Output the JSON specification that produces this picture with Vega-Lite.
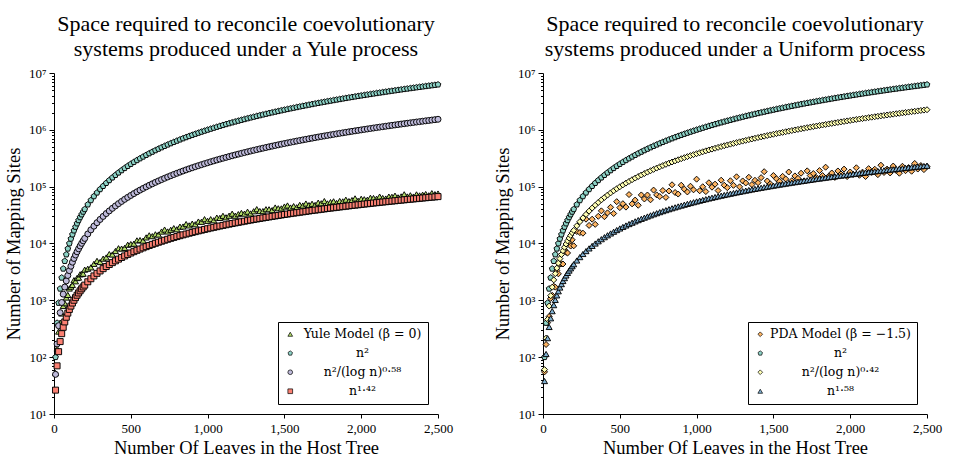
{
  "$schema": "https://vega.github.io/schema/vega-lite/v6.json",
  "background": "white",
  "padding": {"left": 4, "top": 12, "right": 6, "bottom": 2},
  "config": {
    "font": "Liberation Serif",
    "view": {"stroke": null},
    "axis": {
      "labelFont": "Liberation Serif", "titleFont": "Liberation Serif",
      "labelFontSize": 13, "titleFontSize": 18.5, "titleFontWeight": "normal",
      "labelColor": "black", "titleColor": "black",
      "domainColor": "black", "tickColor": "black", "grid": false
    },
    "title": {
      "font": "Liberation Serif", "fontSize": 22, "fontWeight": "normal", "color": "black",
      "lineHeight": 25.5, "anchor": "middle", "frame": "group", "offset": 6
    },
    "legend": {
      "labelFont": "DejaVu Serif", "labelFontSize": 12.5, "labelColor": "black",
      "strokeColor": "black", "fillColor": "white", "padding": 6, "cornerRadius": 0,
      "symbolStrokeColor": "black", "symbolStrokeWidth": 0.7, "symbolSize": 22,
      "rowPadding": 6, "labelAlign": "center", "orient": "bottom-right", "offset": 10
    }
  },
  "datasets": {
    "pts": [
      {"n":10,"s":"Y","y":52.6},{"n":20,"s":"Y","y":142},{"n":30,"s":"Y","y":282},{"n":40,"s":"Y","y":405},{"n":50,"s":"Y","y":587},{"n":60,"s":"Y","y":796},{"n":70,"s":"Y","y":890},{"n":80,"s":"Y","y":1120},{"n":90,"s":"Y","y":1246},{"n":100,"s":"Y","y":1614},
      {"n":110,"s":"Y","y":1737},{"n":120,"s":"Y","y":1863},{"n":130,"s":"Y","y":2264},{"n":140,"s":"Y","y":2163},{"n":150,"s":"Y","y":2470},{"n":160,"s":"Y","y":2512},{"n":170,"s":"Y","y":2869},{"n":180,"s":"Y","y":2901},{"n":190,"s":"Y","y":2941},{"n":200,"s":"Y","y":3468},
      {"n":220,"s":"Y","y":3596},{"n":240,"s":"Y","y":3807},{"n":260,"s":"Y","y":4387},{"n":280,"s":"Y","y":4946},{"n":300,"s":"Y","y":4726},{"n":320,"s":"Y","y":5410},{"n":340,"s":"Y","y":5683},{"n":360,"s":"Y","y":6517},{"n":380,"s":"Y","y":6412},{"n":400,"s":"Y","y":7373},
      {"n":420,"s":"Y","y":8257},{"n":440,"s":"Y","y":8138},{"n":460,"s":"Y","y":8381},{"n":480,"s":"Y","y":9511},{"n":500,"s":"Y","y":9754},{"n":520,"s":"Y","y":9934},{"n":540,"s":"Y","y":11338},{"n":560,"s":"Y","y":11489},{"n":580,"s":"Y","y":11246},{"n":600,"s":"Y","y":12795},
      {"n":620,"s":"Y","y":13925},{"n":640,"s":"Y","y":13479},{"n":660,"s":"Y","y":14507},{"n":680,"s":"Y","y":14391},{"n":700,"s":"Y","y":16228},{"n":720,"s":"Y","y":17576},{"n":740,"s":"Y","y":16282},{"n":760,"s":"Y","y":17422},{"n":780,"s":"Y","y":18619},{"n":800,"s":"Y","y":17812},
      {"n":820,"s":"Y","y":19797},{"n":840,"s":"Y","y":19895},{"n":860,"s":"Y","y":21998},{"n":880,"s":"Y","y":20827},{"n":900,"s":"Y","y":22377},{"n":920,"s":"Y","y":21797},{"n":940,"s":"Y","y":24330},{"n":960,"s":"Y","y":24105},{"n":980,"s":"Y","y":26795},{"n":1000,"s":"Y","y":25045},
      {"n":1020,"s":"Y","y":26794},{"n":1040,"s":"Y","y":25666},{"n":1060,"s":"Y","y":28576},{"n":1080,"s":"Y","y":28211},{"n":1100,"s":"Y","y":30701},{"n":1120,"s":"Y","y":28902},{"n":1140,"s":"Y","y":30855},{"n":1160,"s":"Y","y":33488},{"n":1180,"s":"Y","y":30814},{"n":1200,"s":"Y","y":32855},
      {"n":1220,"s":"Y","y":34539},{"n":1240,"s":"Y","y":33525},{"n":1260,"s":"Y","y":36267},{"n":1280,"s":"Y","y":33802},{"n":1300,"s":"Y","y":36939},{"n":1320,"s":"Y","y":40206},{"n":1340,"s":"Y","y":37220},{"n":1360,"s":"Y","y":37141},{"n":1380,"s":"Y","y":40090},{"n":1400,"s":"Y","y":40015},
      {"n":1420,"s":"Y","y":38681},{"n":1440,"s":"Y","y":42992},{"n":1460,"s":"Y","y":41643},{"n":1480,"s":"Y","y":41490},{"n":1500,"s":"Y","y":44687},{"n":1520,"s":"Y","y":46691},{"n":1540,"s":"Y","y":42994},{"n":1560,"s":"Y","y":45435},{"n":1580,"s":"Y","y":43411},{"n":1600,"s":"Y","y":47746},
      {"n":1620,"s":"Y","y":46569},{"n":1640,"s":"Y","y":50510},{"n":1660,"s":"Y","y":47392},{"n":1680,"s":"Y","y":50001},{"n":1700,"s":"Y","y":47699},{"n":1720,"s":"Y","y":52323},{"n":1740,"s":"Y","y":51008},{"n":1760,"s":"Y","y":55771},{"n":1780,"s":"Y","y":50757},{"n":1800,"s":"Y","y":53502},
      {"n":1820,"s":"Y","y":55236},{"n":1840,"s":"Y","y":51576},{"n":1860,"s":"Y","y":56006},{"n":1880,"s":"Y","y":55031},{"n":1900,"s":"Y","y":58981},{"n":1920,"s":"Y","y":55728},{"n":1940,"s":"Y","y":58077},{"n":1960,"s":"Y","y":62186},{"n":1980,"s":"Y","y":56432},{"n":2000,"s":"Y","y":61168},
      {"n":2020,"s":"Y","y":60057},{"n":2040,"s":"Y","y":58896},{"n":2060,"s":"Y","y":63719},{"n":2080,"s":"Y","y":63158},{"n":2100,"s":"Y","y":61331},{"n":2120,"s":"Y","y":66895},{"n":2140,"s":"Y","y":63142},{"n":2160,"s":"Y","y":61850},{"n":2180,"s":"Y","y":66899},{"n":2200,"s":"Y","y":66243},
      {"n":2220,"s":"Y","y":69491},{"n":2240,"s":"Y","y":64846},{"n":2260,"s":"Y","y":67387},{"n":2280,"s":"Y","y":73383},{"n":2300,"s":"Y","y":67249},{"n":2320,"s":"Y","y":70531},{"n":2340,"s":"Y","y":67001},{"n":2360,"s":"Y","y":73145},{"n":2380,"s":"Y","y":70190},{"n":2400,"s":"Y","y":72196},
      {"n":2420,"s":"Y","y":74221},{"n":2440,"s":"Y","y":70507},{"n":2460,"s":"Y","y":76807},{"n":2480,"s":"Y","y":73757},{"n":2500,"s":"Y","y":75737},

      {"n":10,"s":"P","y":55.1},{"n":20,"s":"P","y":167},{"n":30,"s":"P","y":404},{"n":40,"s":"P","y":520},{"n":50,"s":"P","y":1083},{"n":60,"s":"P","y":1226},{"n":70,"s":"P","y":1772},{"n":80,"s":"P","y":1707},{"n":90,"s":"P","y":3366},{"n":100,"s":"P","y":2926},
      {"n":110,"s":"P","y":4330},{"n":120,"s":"P","y":4395},{"n":130,"s":"P","y":4358},{"n":140,"s":"P","y":7835},{"n":150,"s":"P","y":6995},{"n":160,"s":"P","y":6817},{"n":170,"s":"P","y":9993},{"n":180,"s":"P","y":9018},{"n":190,"s":"P","y":11620},{"n":200,"s":"P","y":9102},
      {"n":220,"s":"P","y":16278},{"n":240,"s":"P","y":15563},{"n":260,"s":"P","y":15191},{"n":280,"s":"P","y":26802},{"n":300,"s":"P","y":20812},{"n":320,"s":"P","y":26774},{"n":340,"s":"P","y":21717},{"n":360,"s":"P","y":30104},{"n":380,"s":"P","y":37504},{"n":400,"s":"P","y":29644},
      {"n":420,"s":"P","y":34590},{"n":440,"s":"P","y":43349},{"n":460,"s":"P","y":33702},{"n":480,"s":"P","y":54474},{"n":500,"s":"P","y":42789},{"n":520,"s":"P","y":50170},{"n":540,"s":"P","y":43662},{"n":560,"s":"P","y":72648},{"n":580,"s":"P","y":49817},{"n":600,"s":"P","y":58088},
      {"n":620,"s":"P","y":47090},{"n":640,"s":"P","y":71483},{"n":660,"s":"P","y":60736},{"n":680,"s":"P","y":71320},{"n":700,"s":"P","y":58774},{"n":720,"s":"P","y":87072},{"n":740,"s":"P","y":71705},{"n":760,"s":"P","y":67094},{"n":780,"s":"P","y":85540},{"n":800,"s":"P","y":64763},
      {"n":820,"s":"P","y":83919},{"n":840,"s":"P","y":107950},{"n":860,"s":"P","y":78970},{"n":880,"s":"P","y":74146},{"n":900,"s":"P","y":106084},{"n":920,"s":"P","y":90489},{"n":940,"s":"P","y":80731},{"n":960,"s":"P","y":101803},{"n":980,"s":"P","y":87984},{"n":1000,"s":"P","y":135462},
      {"n":1020,"s":"P","y":84705},{"n":1040,"s":"P","y":99713},{"n":1060,"s":"P","y":82002},{"n":1080,"s":"P","y":117169},{"n":1100,"s":"P","y":97915},{"n":1120,"s":"P","y":110752},{"n":1140,"s":"P","y":85359},{"n":1160,"s":"P","y":129891},{"n":1180,"s":"P","y":105992},{"n":1200,"s":"P","y":96104},
      {"n":1220,"s":"P","y":126943},{"n":1240,"s":"P","y":105538},{"n":1260,"s":"P","y":149234},{"n":1280,"s":"P","y":99347},{"n":1300,"s":"P","y":126092},{"n":1320,"s":"P","y":116156},{"n":1340,"s":"P","y":146421},{"n":1360,"s":"P","y":108808},{"n":1380,"s":"P","y":129605},{"n":1400,"s":"P","y":117444},
      {"n":1420,"s":"P","y":144125},{"n":1440,"s":"P","y":183487},{"n":1460,"s":"P","y":125864},{"n":1480,"s":"P","y":111858},{"n":1500,"s":"P","y":157209},{"n":1520,"s":"P","y":137679},{"n":1540,"s":"P","y":124480},{"n":1560,"s":"P","y":151769},{"n":1580,"s":"P","y":136698},{"n":1600,"s":"P","y":180985},
      {"n":1620,"s":"P","y":127322},{"n":1640,"s":"P","y":154616},{"n":1660,"s":"P","y":139939},{"n":1680,"s":"P","y":172640},{"n":1700,"s":"P","y":126527},{"n":1720,"s":"P","y":189656},{"n":1740,"s":"P","y":156826},{"n":1760,"s":"P","y":170104},{"n":1780,"s":"P","y":144324},{"n":1800,"s":"P","y":191903},
      {"n":1820,"s":"P","y":156709},{"n":1840,"s":"P","y":220067},{"n":1860,"s":"P","y":152890},{"n":1880,"s":"P","y":173992},{"n":1900,"s":"P","y":145564},{"n":1920,"s":"P","y":188977},{"n":1940,"s":"P","y":167082},{"n":1960,"s":"P","y":203760},{"n":1980,"s":"P","y":150545},{"n":2000,"s":"P","y":181163},
      {"n":2020,"s":"P","y":163986},{"n":2040,"s":"P","y":215049},{"n":2060,"s":"P","y":158558},{"n":2080,"s":"P","y":180054},{"n":2100,"s":"P","y":150991},{"n":2120,"s":"P","y":207595},{"n":2140,"s":"P","y":178180},{"n":2160,"s":"P","y":202420},{"n":2180,"s":"P","y":162713},{"n":2200,"s":"P","y":238688},
      {"n":2220,"s":"P","y":177849},{"n":2240,"s":"P","y":203573},{"n":2260,"s":"P","y":174305},{"n":2280,"s":"P","y":230511},{"n":2300,"s":"P","y":192727},{"n":2320,"s":"P","y":172405},{"n":2340,"s":"P","y":228341},{"n":2360,"s":"P","y":191096},{"n":2380,"s":"P","y":216635},{"n":2400,"s":"P","y":186869},
      {"n":2420,"s":"P","y":256278},{"n":2440,"s":"P","y":204201},{"n":2460,"s":"P","y":235290},{"n":2480,"s":"P","y":199668},{"n":2500,"s":"P","y":226747},

      {"n":10,"s":"C","y":100},{"n":20,"s":"C","y":400},{"n":30,"s":"C","y":900},{"n":40,"s":"C","y":1600},{"n":50,"s":"C","y":2500},{"n":60,"s":"C","y":3600},{"n":70,"s":"C","y":4900},{"n":80,"s":"C","y":6400},{"n":90,"s":"C","y":8100},{"n":100,"s":"C","y":10000},
      {"n":110,"s":"C","y":12100},{"n":120,"s":"C","y":14400},{"n":130,"s":"C","y":16900},{"n":140,"s":"C","y":19600},{"n":150,"s":"C","y":22500},{"n":160,"s":"C","y":25600},{"n":170,"s":"C","y":28900},{"n":180,"s":"C","y":32400},{"n":190,"s":"C","y":36100},{"n":200,"s":"C","y":40000},
      {"n":220,"s":"C","y":48400},{"n":240,"s":"C","y":57600},{"n":260,"s":"C","y":67600},{"n":280,"s":"C","y":78400},{"n":300,"s":"C","y":90000},{"n":320,"s":"C","y":102400},{"n":340,"s":"C","y":115600},{"n":360,"s":"C","y":129600},{"n":380,"s":"C","y":144400},{"n":400,"s":"C","y":160000},
      {"n":420,"s":"C","y":176400},{"n":440,"s":"C","y":193600},{"n":460,"s":"C","y":211600},{"n":480,"s":"C","y":230400},{"n":500,"s":"C","y":250000},{"n":520,"s":"C","y":270400},{"n":540,"s":"C","y":291600},{"n":560,"s":"C","y":313600},{"n":580,"s":"C","y":336400},{"n":600,"s":"C","y":360000},
      {"n":620,"s":"C","y":384400},{"n":640,"s":"C","y":409600},{"n":660,"s":"C","y":435600},{"n":680,"s":"C","y":462400},{"n":700,"s":"C","y":490000},{"n":720,"s":"C","y":518400},{"n":740,"s":"C","y":547600},{"n":760,"s":"C","y":577600},{"n":780,"s":"C","y":608400},{"n":800,"s":"C","y":640000},
      {"n":820,"s":"C","y":672400},{"n":840,"s":"C","y":705600},{"n":860,"s":"C","y":739600},{"n":880,"s":"C","y":774400},{"n":900,"s":"C","y":810000},{"n":920,"s":"C","y":846400},{"n":940,"s":"C","y":883600},{"n":960,"s":"C","y":921600},{"n":980,"s":"C","y":960400},{"n":1000,"s":"C","y":1000000},
      {"n":1020,"s":"C","y":1040400},{"n":1040,"s":"C","y":1081600},{"n":1060,"s":"C","y":1123600},{"n":1080,"s":"C","y":1166400},{"n":1100,"s":"C","y":1210000},{"n":1120,"s":"C","y":1254400},{"n":1140,"s":"C","y":1299600},{"n":1160,"s":"C","y":1345600},{"n":1180,"s":"C","y":1392400},{"n":1200,"s":"C","y":1440000},
      {"n":1220,"s":"C","y":1488400},{"n":1240,"s":"C","y":1537600},{"n":1260,"s":"C","y":1587600},{"n":1280,"s":"C","y":1638400},{"n":1300,"s":"C","y":1690000},{"n":1320,"s":"C","y":1742400},{"n":1340,"s":"C","y":1795600},{"n":1360,"s":"C","y":1849600},{"n":1380,"s":"C","y":1904400},{"n":1400,"s":"C","y":1960000},
      {"n":1420,"s":"C","y":2016400},{"n":1440,"s":"C","y":2073600},{"n":1460,"s":"C","y":2131600},{"n":1480,"s":"C","y":2190400},{"n":1500,"s":"C","y":2250000},{"n":1520,"s":"C","y":2310400},{"n":1540,"s":"C","y":2371600},{"n":1560,"s":"C","y":2433600},{"n":1580,"s":"C","y":2496400},{"n":1600,"s":"C","y":2560000},
      {"n":1620,"s":"C","y":2624400},{"n":1640,"s":"C","y":2689600},{"n":1660,"s":"C","y":2755600},{"n":1680,"s":"C","y":2822400},{"n":1700,"s":"C","y":2890000},{"n":1720,"s":"C","y":2958400},{"n":1740,"s":"C","y":3027600},{"n":1760,"s":"C","y":3097600},{"n":1780,"s":"C","y":3168400},{"n":1800,"s":"C","y":3240000},
      {"n":1820,"s":"C","y":3312400},{"n":1840,"s":"C","y":3385600},{"n":1860,"s":"C","y":3459600},{"n":1880,"s":"C","y":3534400},{"n":1900,"s":"C","y":3610000},{"n":1920,"s":"C","y":3686400},{"n":1940,"s":"C","y":3763600},{"n":1960,"s":"C","y":3841600},{"n":1980,"s":"C","y":3920400},{"n":2000,"s":"C","y":4000000},
      {"n":2020,"s":"C","y":4080400},{"n":2040,"s":"C","y":4161600},{"n":2060,"s":"C","y":4243600},{"n":2080,"s":"C","y":4326400},{"n":2100,"s":"C","y":4410000},{"n":2120,"s":"C","y":4494400},{"n":2140,"s":"C","y":4579600},{"n":2160,"s":"C","y":4665600},{"n":2180,"s":"C","y":4752400},{"n":2200,"s":"C","y":4840000},
      {"n":2220,"s":"C","y":4928400},{"n":2240,"s":"C","y":5017600},{"n":2260,"s":"C","y":5107600},{"n":2280,"s":"C","y":5198400},{"n":2300,"s":"C","y":5290000},{"n":2320,"s":"C","y":5382400},{"n":2340,"s":"C","y":5475600},{"n":2360,"s":"C","y":5569600},{"n":2380,"s":"C","y":5664400},{"n":2400,"s":"C","y":5760000},
      {"n":2420,"s":"C","y":5856400},{"n":2440,"s":"C","y":5953600},{"n":2460,"s":"C","y":6051600},{"n":2480,"s":"C","y":6150400},{"n":2500,"s":"C","y":6250000},

      {"n":10,"s":"D","y":49.8},{"n":20,"s":"D","y":171},{"n":30,"s":"D","y":358},{"n":40,"s":"D","y":607},{"n":50,"s":"D","y":916},{"n":60,"s":"D","y":1285},{"n":70,"s":"D","y":1712},{"n":80,"s":"D","y":2196},{"n":90,"s":"D","y":2738},{"n":100,"s":"D","y":3334},
      {"n":110,"s":"D","y":3987},{"n":120,"s":"D","y":4694},{"n":130,"s":"D","y":5456},{"n":140,"s":"D","y":6273},{"n":150,"s":"D","y":7143},{"n":160,"s":"D","y":8067},{"n":170,"s":"D","y":9046},{"n":180,"s":"D","y":10076},{"n":190,"s":"D","y":11154},{"n":200,"s":"D","y":12292},
      {"n":220,"s":"D","y":14720},{"n":240,"s":"D","y":17360},{"n":260,"s":"D","y":20200},{"n":280,"s":"D","y":23255},{"n":300,"s":"D","y":26500},{"n":320,"s":"D","y":29960},{"n":340,"s":"D","y":33616},{"n":360,"s":"D","y":37474},{"n":380,"s":"D","y":41540},{"n":400,"s":"D","y":45800},
      {"n":420,"s":"D","y":50280},{"n":440,"s":"D","y":54950},{"n":460,"s":"D","y":59800},{"n":480,"s":"D","y":64840},{"n":500,"s":"D","y":70050},{"n":520,"s":"D","y":75516},{"n":540,"s":"D","y":81160},{"n":560,"s":"D","y":86990},{"n":580,"s":"D","y":93010},{"n":600,"s":"D","y":99200},
      {"n":620,"s":"D","y":105620},{"n":640,"s":"D","y":112250},{"n":660,"s":"D","y":119050},{"n":680,"s":"D","y":126030},{"n":700,"s":"D","y":133150},{"n":720,"s":"D","y":140520},{"n":740,"s":"D","y":148120},{"n":760,"s":"D","y":155900},{"n":780,"s":"D","y":163830},{"n":800,"s":"D","y":171890},
      {"n":820,"s":"D","y":180220},{"n":840,"s":"D","y":188760},{"n":860,"s":"D","y":197480},{"n":880,"s":"D","y":206360},{"n":900,"s":"D","y":215390},{"n":920,"s":"D","y":224700},{"n":940,"s":"D","y":234140},{"n":960,"s":"D","y":243770},{"n":980,"s":"D","y":253580},{"n":1000,"s":"D","y":263520},
      {"n":1020,"s":"D","y":273830},{"n":1040,"s":"D","y":284150},{"n":1060,"s":"D","y":294790},{"n":1080,"s":"D","y":305550},{"n":1100,"s":"D","y":316490},{"n":1120,"s":"D","y":327620},{"n":1140,"s":"D","y":338850},{"n":1160,"s":"D","y":350330},{"n":1180,"s":"D","y":362000},{"n":1200,"s":"D","y":373780},
      {"n":1220,"s":"D","y":385910},{"n":1240,"s":"D","y":398150},{"n":1260,"s":"D","y":410610},{"n":1280,"s":"D","y":423230},{"n":1300,"s":"D","y":436000},{"n":1320,"s":"D","y":448960},{"n":1340,"s":"D","y":462080},{"n":1360,"s":"D","y":475340},{"n":1380,"s":"D","y":488820},{"n":1400,"s":"D","y":502520},
      {"n":1420,"s":"D","y":516450},{"n":1440,"s":"D","y":530480},{"n":1460,"s":"D","y":544720},{"n":1480,"s":"D","y":559150},{"n":1500,"s":"D","y":573750},{"n":1520,"s":"D","y":588530},{"n":1540,"s":"D","y":603570},{"n":1560,"s":"D","y":618650},{"n":1580,"s":"D","y":634000},{"n":1600,"s":"D","y":649460},
      {"n":1620,"s":"D","y":665160},{"n":1640,"s":"D","y":681040},{"n":1660,"s":"D","y":697080},{"n":1680,"s":"D","y":713300},{"n":1700,"s":"D","y":729720},{"n":1720,"s":"D","y":746360},{"n":1740,"s":"D","y":763140},{"n":1760,"s":"D","y":779980},{"n":1780,"s":"D","y":797100},{"n":1800,"s":"D","y":814350},
      {"n":1820,"s":"D","y":831950},{"n":1840,"s":"D","y":849670},{"n":1860,"s":"D","y":867440},{"n":1880,"s":"D","y":885580},{"n":1900,"s":"D","y":903760},{"n":1920,"s":"D","y":922100},{"n":1940,"s":"D","y":940700},{"n":1960,"s":"D","y":959410},{"n":1980,"s":"D","y":978260},{"n":2000,"s":"D","y":997300},
      {"n":2020,"s":"D","y":1016650},{"n":2040,"s":"D","y":1036100},{"n":2060,"s":"D","y":1055700},{"n":2080,"s":"D","y":1076100},{"n":2100,"s":"D","y":1096100},{"n":2120,"s":"D","y":1115300},{"n":2140,"s":"D","y":1136000},{"n":2160,"s":"D","y":1156400},{"n":2180,"s":"D","y":1177400},{"n":2200,"s":"D","y":1198200},
      {"n":2220,"s":"D","y":1218900},{"n":2240,"s":"D","y":1240200},{"n":2260,"s":"D","y":1261900},{"n":2280,"s":"D","y":1283500},{"n":2300,"s":"D","y":1305000},{"n":2320,"s":"D","y":1326900},{"n":2340,"s":"D","y":1349300},{"n":2360,"s":"D","y":1371600},{"n":2380,"s":"D","y":1393600},{"n":2400,"s":"D","y":1417000},
      {"n":2420,"s":"D","y":1439900},{"n":2440,"s":"D","y":1461900},{"n":2460,"s":"D","y":1485500},{"n":2480,"s":"D","y":1508800},{"n":2500,"s":"D","y":1532800},

      {"n":10,"s":"E","y":60.4},{"n":20,"s":"E","y":216},{"n":30,"s":"E","y":461},{"n":40,"s":"E","y":793},{"n":50,"s":"E","y":1208},{"n":60,"s":"E","y":1707},{"n":70,"s":"E","y":2288},{"n":80,"s":"E","y":2950},{"n":90,"s":"E","y":3692},{"n":100,"s":"E","y":4514},
      {"n":110,"s":"E","y":5415},{"n":120,"s":"E","y":6396},{"n":130,"s":"E","y":7453},{"n":140,"s":"E","y":8589},{"n":150,"s":"E","y":9803},{"n":160,"s":"E","y":11090},{"n":170,"s":"E","y":12460},{"n":180,"s":"E","y":13900},{"n":190,"s":"E","y":15431},{"n":200,"s":"E","y":17022},
      {"n":220,"s":"E","y":20450},{"n":240,"s":"E","y":24170},{"n":260,"s":"E","y":28190},{"n":280,"s":"E","y":32516},{"n":300,"s":"E","y":37150},{"n":320,"s":"E","y":42056},{"n":340,"s":"E","y":47260},{"n":360,"s":"E","y":52770},{"n":380,"s":"E","y":58570},{"n":400,"s":"E","y":64670},
      {"n":420,"s":"E","y":71080},{"n":440,"s":"E","y":77760},{"n":460,"s":"E","y":84745},{"n":480,"s":"E","y":91980},{"n":500,"s":"E","y":99500},{"n":520,"s":"E","y":107410},{"n":540,"s":"E","y":115480},{"n":560,"s":"E","y":123890},{"n":580,"s":"E","y":132580},{"n":600,"s":"E","y":141610},
      {"n":620,"s":"E","y":150840},{"n":640,"s":"E","y":160430},{"n":660,"s":"E","y":170240},{"n":680,"s":"E","y":180350},{"n":700,"s":"E","y":190720},{"n":720,"s":"E","y":201450},{"n":740,"s":"E","y":212430},{"n":760,"s":"E","y":223880},{"n":780,"s":"E","y":235230},{"n":800,"s":"E","y":247080},
      {"n":820,"s":"E","y":259140},{"n":840,"s":"E","y":271630},{"n":860,"s":"E","y":284210},{"n":880,"s":"E","y":297170},{"n":900,"s":"E","y":310360},{"n":920,"s":"E","y":323940},{"n":940,"s":"E","y":337700},{"n":960,"s":"E","y":351750},{"n":980,"s":"E","y":366160},{"n":1000,"s":"E","y":380740},
      {"n":1020,"s":"E","y":395630},{"n":1040,"s":"E","y":410920},{"n":1060,"s":"E","y":426410},{"n":1080,"s":"E","y":442120},{"n":1100,"s":"E","y":458170},{"n":1120,"s":"E","y":474430},{"n":1140,"s":"E","y":491030},{"n":1160,"s":"E","y":507870},{"n":1180,"s":"E","y":524920},{"n":1200,"s":"E","y":542260},
      {"n":1220,"s":"E","y":559970},{"n":1240,"s":"E","y":577960},{"n":1260,"s":"E","y":596210},{"n":1280,"s":"E","y":614820},{"n":1300,"s":"E","y":633600},{"n":1320,"s":"E","y":652670},{"n":1340,"s":"E","y":671940},{"n":1360,"s":"E","y":691540},{"n":1380,"s":"E","y":711330},{"n":1400,"s":"E","y":731460},
      {"n":1420,"s":"E","y":751960},{"n":1440,"s":"E","y":772700},{"n":1460,"s":"E","y":793660},{"n":1480,"s":"E","y":814940},{"n":1500,"s":"E","y":836520},{"n":1520,"s":"E","y":858240},{"n":1540,"s":"E","y":880400},{"n":1560,"s":"E","y":902720},{"n":1580,"s":"E","y":925260},{"n":1600,"s":"E","y":948160},
      {"n":1620,"s":"E","y":971350},{"n":1640,"s":"E","y":994720},{"n":1660,"s":"E","y":1018520},{"n":1680,"s":"E","y":1042500},{"n":1700,"s":"E","y":1066600},{"n":1720,"s":"E","y":1091800},{"n":1740,"s":"E","y":1115600},{"n":1760,"s":"E","y":1141100},{"n":1780,"s":"E","y":1166300},{"n":1800,"s":"E","y":1192100},
      {"n":1820,"s":"E","y":1217600},{"n":1840,"s":"E","y":1243800},{"n":1860,"s":"E","y":1270600},{"n":1880,"s":"E","y":1297000},{"n":1900,"s":"E","y":1323900},{"n":1920,"s":"E","y":1351500},{"n":1940,"s":"E","y":1379000},{"n":1960,"s":"E","y":1406300},{"n":1980,"s":"E","y":1435200},{"n":2000,"s":"E","y":1462500},
      {"n":2020,"s":"E","y":1491500},{"n":2040,"s":"E","y":1520900},{"n":2060,"s":"E","y":1549900},{"n":2080,"s":"E","y":1579200},{"n":2100,"s":"E","y":1608800},{"n":2120,"s":"E","y":1638900},{"n":2140,"s":"E","y":1669200},{"n":2160,"s":"E","y":1699000},{"n":2180,"s":"E","y":1729800},{"n":2200,"s":"E","y":1761200},
      {"n":2220,"s":"E","y":1792000},{"n":2240,"s":"E","y":1824200},{"n":2260,"s":"E","y":1856000},{"n":2280,"s":"E","y":1887700},{"n":2300,"s":"E","y":1919700},{"n":2320,"s":"E","y":1953000},{"n":2340,"s":"E","y":1985800},{"n":2360,"s":"E","y":2018500},{"n":2380,"s":"E","y":2052500},{"n":2400,"s":"E","y":2086100},
      {"n":2420,"s":"E","y":2119600},{"n":2440,"s":"E","y":2154100},{"n":2460,"s":"E","y":2188900},{"n":2480,"s":"E","y":2223600},{"n":2500,"s":"E","y":2258600},

      {"n":10,"s":"A","y":26.3},{"n":20,"s":"A","y":70.4},{"n":30,"s":"A","y":125},{"n":40,"s":"A","y":188},{"n":50,"s":"A","y":259},{"n":60,"s":"A","y":335},{"n":70,"s":"A","y":417},{"n":80,"s":"A","y":504},{"n":90,"s":"A","y":596},{"n":100,"s":"A","y":692},
      {"n":110,"s":"A","y":792},{"n":120,"s":"A","y":896},{"n":130,"s":"A","y":1004},{"n":140,"s":"A","y":1115},{"n":150,"s":"A","y":1230},{"n":160,"s":"A","y":1349},{"n":170,"s":"A","y":1469},{"n":180,"s":"A","y":1594},{"n":190,"s":"A","y":1721},{"n":200,"s":"A","y":1852},
      {"n":220,"s":"A","y":2119},{"n":240,"s":"A","y":2398},{"n":260,"s":"A","y":2687},{"n":280,"s":"A","y":2985},{"n":300,"s":"A","y":3292},{"n":320,"s":"A","y":3608},{"n":340,"s":"A","y":3932},{"n":360,"s":"A","y":4266},{"n":380,"s":"A","y":4606},{"n":400,"s":"A","y":4954},
      {"n":420,"s":"A","y":5309},{"n":440,"s":"A","y":5671},{"n":460,"s":"A","y":6042},{"n":480,"s":"A","y":6418},{"n":500,"s":"A","y":6801},{"n":520,"s":"A","y":7189},{"n":540,"s":"A","y":7586},{"n":560,"s":"A","y":7988},{"n":580,"s":"A","y":8396},{"n":600,"s":"A","y":8810},
      {"n":620,"s":"A","y":9230},{"n":640,"s":"A","y":9656},{"n":660,"s":"A","y":10087},{"n":680,"s":"A","y":10522},{"n":700,"s":"A","y":10961},{"n":720,"s":"A","y":11413},{"n":740,"s":"A","y":11867},{"n":760,"s":"A","y":12321},{"n":780,"s":"A","y":12788},{"n":800,"s":"A","y":13253},
      {"n":820,"s":"A","y":13729},{"n":840,"s":"A","y":14211},{"n":860,"s":"A","y":14685},{"n":880,"s":"A","y":15180},{"n":900,"s":"A","y":15670},{"n":920,"s":"A","y":16166},{"n":940,"s":"A","y":16670},{"n":960,"s":"A","y":17170},{"n":980,"s":"A","y":17685},{"n":1000,"s":"A","y":18200},
      {"n":1020,"s":"A","y":18715},{"n":1040,"s":"A","y":19234},{"n":1060,"s":"A","y":19768},{"n":1080,"s":"A","y":20296},{"n":1100,"s":"A","y":20837},{"n":1120,"s":"A","y":21371},{"n":1140,"s":"A","y":21920},{"n":1160,"s":"A","y":22469},{"n":1180,"s":"A","y":23020},{"n":1200,"s":"A","y":23572},
      {"n":1220,"s":"A","y":24136},{"n":1240,"s":"A","y":24700},{"n":1260,"s":"A","y":25267},{"n":1280,"s":"A","y":25833},{"n":1300,"s":"A","y":26409},{"n":1320,"s":"A","y":26995},{"n":1340,"s":"A","y":27570},{"n":1360,"s":"A","y":28157},{"n":1380,"s":"A","y":28746},{"n":1400,"s":"A","y":29342},
      {"n":1420,"s":"A","y":29938},{"n":1440,"s":"A","y":30541},{"n":1460,"s":"A","y":31141},{"n":1480,"s":"A","y":31749},{"n":1500,"s":"A","y":32364},{"n":1520,"s":"A","y":32977},{"n":1540,"s":"A","y":33592},{"n":1560,"s":"A","y":34212},{"n":1580,"s":"A","y":34838},{"n":1600,"s":"A","y":35479},
      {"n":1620,"s":"A","y":36100},{"n":1640,"s":"A","y":36736},{"n":1660,"s":"A","y":37370},{"n":1680,"s":"A","y":38015},{"n":1700,"s":"A","y":38659},{"n":1720,"s":"A","y":39300},{"n":1740,"s":"A","y":39955},{"n":1760,"s":"A","y":40608},{"n":1780,"s":"A","y":41269},{"n":1800,"s":"A","y":41929},
      {"n":1820,"s":"A","y":42591},{"n":1840,"s":"A","y":43257},{"n":1860,"s":"A","y":43922},{"n":1880,"s":"A","y":44596},{"n":1900,"s":"A","y":45274},{"n":1920,"s":"A","y":45952},{"n":1940,"s":"A","y":46633},{"n":1960,"s":"A","y":47313},{"n":1980,"s":"A","y":48000},{"n":2000,"s":"A","y":48689},
      {"n":2020,"s":"A","y":49388},{"n":2040,"s":"A","y":50082},{"n":2060,"s":"A","y":50782},{"n":2080,"s":"A","y":51485},{"n":2100,"s":"A","y":52190},{"n":2120,"s":"A","y":52893},{"n":2140,"s":"A","y":53601},{"n":2160,"s":"A","y":54312},{"n":2180,"s":"A","y":55027},{"n":2200,"s":"A","y":55745},
      {"n":2220,"s":"A","y":56466},{"n":2240,"s":"A","y":57191},{"n":2260,"s":"A","y":57917},{"n":2280,"s":"A","y":58645},{"n":2300,"s":"A","y":59378},{"n":2320,"s":"A","y":60121},{"n":2340,"s":"A","y":60858},{"n":2360,"s":"A","y":61593},{"n":2380,"s":"A","y":62336},{"n":2400,"s":"A","y":63085},
      {"n":2420,"s":"A","y":63834},{"n":2440,"s":"A","y":64583},{"n":2460,"s":"A","y":65337},{"n":2480,"s":"A","y":66088},{"n":2500,"s":"A","y":66846},

      {"n":10,"s":"B","y":38.0},{"n":20,"s":"B","y":113.7},{"n":30,"s":"B","y":216},{"n":40,"s":"B","y":340},{"n":50,"s":"B","y":483},{"n":60,"s":"B","y":645},{"n":70,"s":"B","y":823},{"n":80,"s":"B","y":1016},{"n":90,"s":"B","y":1224},{"n":100,"s":"B","y":1445},
      {"n":110,"s":"B","y":1681},{"n":120,"s":"B","y":1928},{"n":130,"s":"B","y":2188},{"n":140,"s":"B","y":2460},{"n":150,"s":"B","y":2743},{"n":160,"s":"B","y":3038},{"n":170,"s":"B","y":3342},{"n":180,"s":"B","y":3659},{"n":190,"s":"B","y":3985},{"n":200,"s":"B","y":4322},
      {"n":220,"s":"B","y":5024},{"n":240,"s":"B","y":5764},{"n":260,"s":"B","y":6542},{"n":280,"s":"B","y":7353},{"n":300,"s":"B","y":8200},{"n":320,"s":"B","y":9082},{"n":340,"s":"B","y":9994},{"n":360,"s":"B","y":10943},{"n":380,"s":"B","y":11915},{"n":400,"s":"B","y":12917},
      {"n":420,"s":"B","y":13951},{"n":440,"s":"B","y":15018},{"n":460,"s":"B","y":16113},{"n":480,"s":"B","y":17230},{"n":500,"s":"B","y":18384},{"n":520,"s":"B","y":19558},{"n":540,"s":"B","y":20760},{"n":560,"s":"B","y":21988},{"n":580,"s":"B","y":23240},{"n":600,"s":"B","y":24520},
      {"n":620,"s":"B","y":25817},{"n":640,"s":"B","y":27154},{"n":660,"s":"B","y":28498},{"n":680,"s":"B","y":29877},{"n":700,"s":"B","y":31276},{"n":720,"s":"B","y":32703},{"n":740,"s":"B","y":34145},{"n":760,"s":"B","y":35618},{"n":780,"s":"B","y":37107},{"n":800,"s":"B","y":38627},
      {"n":820,"s":"B","y":40162},{"n":840,"s":"B","y":41725},{"n":860,"s":"B","y":43304},{"n":880,"s":"B","y":44905},{"n":900,"s":"B","y":46528},{"n":920,"s":"B","y":48168},{"n":940,"s":"B","y":49840},{"n":960,"s":"B","y":51525},{"n":980,"s":"B","y":53227},{"n":1000,"s":"B","y":54954},
      {"n":1020,"s":"B","y":56697},{"n":1040,"s":"B","y":58463},{"n":1060,"s":"B","y":60260},{"n":1080,"s":"B","y":62060},{"n":1100,"s":"B","y":63889},{"n":1120,"s":"B","y":65736},{"n":1140,"s":"B","y":67594},{"n":1160,"s":"B","y":69475},{"n":1180,"s":"B","y":71375},{"n":1200,"s":"B","y":73296},
      {"n":1220,"s":"B","y":75239},{"n":1240,"s":"B","y":77200},{"n":1260,"s":"B","y":79169},{"n":1280,"s":"B","y":81166},{"n":1300,"s":"B","y":83186},{"n":1320,"s":"B","y":85208},{"n":1340,"s":"B","y":87265},{"n":1360,"s":"B","y":89333},{"n":1380,"s":"B","y":91412},{"n":1400,"s":"B","y":93521},
      {"n":1420,"s":"B","y":95637},{"n":1440,"s":"B","y":97767},{"n":1460,"s":"B","y":99924},{"n":1480,"s":"B","y":102096},{"n":1500,"s":"B","y":104250},{"n":1520,"s":"B","y":106480},{"n":1540,"s":"B","y":108760},{"n":1560,"s":"B","y":110900},{"n":1580,"s":"B","y":113210},{"n":1600,"s":"B","y":115470},
      {"n":1620,"s":"B","y":117780},{"n":1640,"s":"B","y":120090},{"n":1660,"s":"B","y":122370},{"n":1680,"s":"B","y":124710},{"n":1700,"s":"B","y":127100},{"n":1720,"s":"B","y":129440},{"n":1740,"s":"B","y":131820},{"n":1760,"s":"B","y":134220},{"n":1780,"s":"B","y":136670},{"n":1800,"s":"B","y":139060},
      {"n":1820,"s":"B","y":141600},{"n":1840,"s":"B","y":144070},{"n":1860,"s":"B","y":146450},{"n":1880,"s":"B","y":148980},{"n":1900,"s":"B","y":151550},{"n":1920,"s":"B","y":154080},{"n":1940,"s":"B","y":156590},{"n":1960,"s":"B","y":159150},{"n":1980,"s":"B","y":161720},{"n":2000,"s":"B","y":164320},
      {"n":2020,"s":"B","y":166940},{"n":2040,"s":"B","y":169490},{"n":2060,"s":"B","y":172130},{"n":2080,"s":"B","y":174810},{"n":2100,"s":"B","y":177480},{"n":2120,"s":"B","y":180110},{"n":2140,"s":"B","y":182860},{"n":2160,"s":"B","y":185570},{"n":2180,"s":"B","y":188260},{"n":2200,"s":"B","y":190950},
      {"n":2220,"s":"B","y":193700},{"n":2240,"s":"B","y":196530},{"n":2260,"s":"B","y":199270},{"n":2280,"s":"B","y":202060},{"n":2300,"s":"B","y":204920},{"n":2320,"s":"B","y":207740},{"n":2340,"s":"B","y":210530},{"n":2360,"s":"B","y":213410},{"n":2380,"s":"B","y":216280},{"n":2400,"s":"B","y":219170},
      {"n":2420,"s":"B","y":222070},{"n":2440,"s":"B","y":224970},{"n":2460,"s":"B","y":227900},{"n":2480,"s":"B","y":230810},{"n":2500,"s":"B","y":233760}
    ]
  },
  "spacing": 40,
  "resolve": {
    "scale": {"color": "independent", "shape": "independent"},
    "legend": {"color": "independent", "shape": "independent"}
  },
  "hconcat": [
    {
      "width": 384, "height": 341,
      "title": {"text": ["Space required to reconcile coevolutionary", "systems produced under a Yule process"]},
      "data": {"name": "pts"},
      "transform": [{"filter": {"field": "s", "oneOf": ["Y", "C", "D", "A"]}}],
      "mark": {"type": "point", "filled": true, "opacity": 1, "stroke": "black", "strokeWidth": 0.95, "size": 36},
      "encoding": {
        "x": {
          "field": "n", "type": "quantitative",
          "scale": {"domain": [0, 2500], "nice": false, "zero": false},
          "axis": {"title": "Number Of Leaves in the Host Tree", "values": [0, 500, 1000, 1500, 2000, 2500], "format": ",d", "tickSize": 4, "labelPadding": 4, "titlePadding": 3, "labelFlush": false}
        },
        "y": {
          "field": "y", "type": "quantitative",
          "scale": {"type": "log", "domain": [10, 10000000], "nice": false},
          "axis": {
            "title": "Number of Mapping Sites", "titlePadding": 5, "labelPadding": 3, "labelOverlap": false, "labelFlush": false,
            "values": [10,20,30,40,50,60,70,80,90,100,200,300,400,500,600,700,800,900,1000,2000,3000,4000,5000,6000,7000,8000,9000,10000,20000,30000,40000,50000,60000,70000,80000,90000,100000,200000,300000,400000,500000,600000,700000,800000,900000,1000000,2000000,3000000,4000000,5000000,6000000,7000000,8000000,9000000,10000000],
            "labelExpr": "indexof([10,100,1000,10000,100000,1000000,10000000], datum.value) >= 0 ? '10' + ['','¹','²','³','⁴','⁵','⁶','⁷'][round(log(datum.value) / LN10)] : ''",
            "tickSize": {"condition": {"test": "indexof([10,100,1000,10000,100000,1000000,10000000], datum.value) >= 0", "value": 5}, "value": 2.5}
          }
        },
        "color": {
          "field": "s", "type": "nominal",
          "scale": {"domain": ["Y", "C", "D", "A"], "range": ["#b3de69", "#8dd3c7", "#bebada", "#fb8072"]},
          "legend": {"title": null, "labelOffset": 66, "labelExpr": "{'Y': 'Yule Model (β = 0)', 'C': 'n²', 'D': 'n²/(log n)⁰·⁵⁸', 'A': 'n¹·⁴²'}[datum.label]"}
        },
        "shape": {
          "field": "s", "type": "nominal",
          "scale": {"domain": ["Y", "C", "D", "A"], "range": ["triangle-up", "M0,-1L0.951,-0.309L0.588,0.809L-0.588,0.809L-0.951,-0.309Z", "circle", "square"]},
          "legend": {"title": null, "labelOffset": 66, "labelExpr": "{'Y': 'Yule Model (β = 0)', 'C': 'n²', 'D': 'n²/(log n)⁰·⁵⁸', 'A': 'n¹·⁴²'}[datum.label]"}
        }
      }
    },
    {
      "width": 384, "height": 341,
      "title": {"text": ["Space required to reconcile coevolutionary", "systems produced under a Uniform process"]},
      "data": {"name": "pts"},
      "transform": [{"filter": {"field": "s", "oneOf": ["P", "C", "E", "B"]}}],
      "mark": {"type": "point", "filled": true, "opacity": 1, "stroke": "black", "strokeWidth": 0.95, "size": 36},
      "encoding": {
        "x": {
          "field": "n", "type": "quantitative",
          "scale": {"domain": [0, 2500], "nice": false, "zero": false},
          "axis": {"title": "Number Of Leaves in the Host Tree", "values": [0, 500, 1000, 1500, 2000, 2500], "format": ",d", "tickSize": 4, "labelPadding": 4, "titlePadding": 3, "labelFlush": false}
        },
        "y": {
          "field": "y", "type": "quantitative",
          "scale": {"type": "log", "domain": [10, 10000000], "nice": false},
          "axis": {
            "title": "Number of Mapping Sites", "titlePadding": 5, "labelPadding": 3, "labelOverlap": false, "labelFlush": false,
            "values": [10,20,30,40,50,60,70,80,90,100,200,300,400,500,600,700,800,900,1000,2000,3000,4000,5000,6000,7000,8000,9000,10000,20000,30000,40000,50000,60000,70000,80000,90000,100000,200000,300000,400000,500000,600000,700000,800000,900000,1000000,2000000,3000000,4000000,5000000,6000000,7000000,8000000,9000000,10000000],
            "labelExpr": "indexof([10,100,1000,10000,100000,1000000,10000000], datum.value) >= 0 ? '10' + ['','¹','²','³','⁴','⁵','⁶','⁷'][round(log(datum.value) / LN10)] : ''",
            "tickSize": {"condition": {"test": "indexof([10,100,1000,10000,100000,1000000,10000000], datum.value) >= 0", "value": 5}, "value": 2.5}
          }
        },
        "color": {
          "field": "s", "type": "nominal",
          "scale": {"domain": ["P", "C", "E", "B"], "range": ["#fdb462", "#8dd3c7", "#ffffb3", "#80b1d3"]},
          "legend": {"title": null, "labelOffset": 74, "labelExpr": "{'P': 'PDA Model (β = −1.5)', 'C': 'n²', 'E': 'n²/(log n)⁰·⁴²', 'B': 'n¹·⁵⁸'}[datum.label]"}
        },
        "shape": {
          "field": "s", "type": "nominal",
          "scale": {"domain": ["P", "C", "E", "B"], "range": ["diamond", "M0,-1L0.951,-0.309L0.588,0.809L-0.588,0.809L-0.951,-0.309Z", "diamond", "triangle-up"]},
          "legend": {"title": null, "labelOffset": 74, "labelExpr": "{'P': 'PDA Model (β = −1.5)', 'C': 'n²', 'E': 'n²/(log n)⁰·⁴²', 'B': 'n¹·⁵⁸'}[datum.label]"}
        }
      }
    }
  ]
}
